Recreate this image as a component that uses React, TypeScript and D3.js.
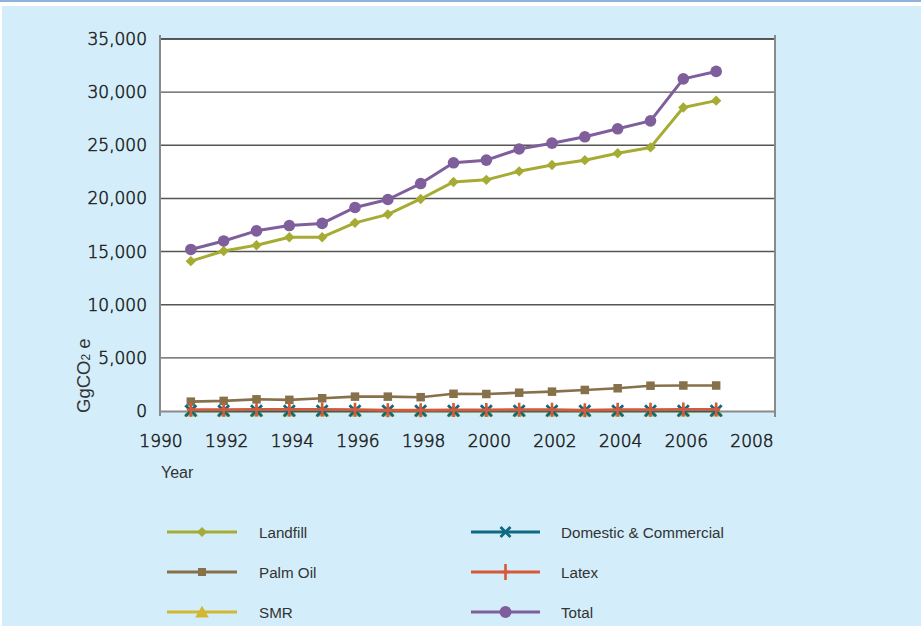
import React from "react";
import * as d3 from "d3";

const years = [1991, 1992, 1993, 1994, 1995, 1996, 1997, 1998, 1999, 2000, 2001, 2002, 2003, 2004, 2005, 2006, 2007];
const landfill = [14100, 15050, 15600, 16350, 16350, 17700, 18500, 19950, 21550, 21750, 22550, 23150, 23600, 24250, 24800, 28550, 29200];
const palmOil = [880, 950, 1100, 1050, 1200, 1350, 1350, 1300, 1620, 1600, 1720, 1820, 1980, 2140, 2380, 2400, 2400];
const smr = [10, 10, 10, 10, 10, 10, 10, 10, 10, 10, 10, 10, 10, 10, 10, 10, 10];
const domestic = [20, 20, 20, 20, 20, 20, 20, 20, 20, 20, 20, 20, 20, 20, 20, 20, 20];
const latex = [110, 110, 140, 140, 130, 110, 60, 80, 90, 100, 110, 120, 80, 110, 120, 130, 130];
const total = [15200, 16000, 16950, 17450, 17650, 19150, 19900, 21400, 23350, 23600, 24650, 25200, 25800, 26550, 27300, 31250, 31950];

const yTicks = [0, 5000, 10000, 15000, 20000, 25000, 30000, 35000];
const xTicks = [1990, 1992, 1994, 1996, 1998, 2000, 2002, 2004, 2006, 2008];

type Marker = "diamond" | "square" | "triangle" | "x" | "plus" | "circle";
interface Series { name: string; values: number[]; color: string; marker: Marker; width: number; }

const series: Series[] = [
  { name: "Landfill", values: landfill, color: "#a6ab33", marker: "diamond", width: 3 },
  { name: "Palm Oil", values: palmOil, color: "#86714a", marker: "square", width: 2.6 },
  { name: "SMR", values: smr, color: "#d2b735", marker: "triangle", width: 3 },
  { name: "Domestic & Commercial", values: domestic, color: "#0e6a80", marker: "x", width: 3 },
  { name: "Latex", values: latex, color: "#d6593a", marker: "plus", width: 3 },
  { name: "Total", values: total, color: "#7e5e9b", marker: "circle", width: 3 },
];

const legendOrder = ["Landfill", "Domestic & Commercial", "Palm Oil", "Latex", "SMR", "Total"];

const W = 921, H = 626;
const plotL = 160, plotR = 775, plotT = 39, plotB = 411;

const x = d3.scaleLinear().domain([1990, 2008]).range([158, 749]);
const y = d3.scaleLinear().domain([0, 35000]).range([plotB, plotT]);

function MarkerShape({ m, cx, cy, color, legend }: { m: Marker; cx: number; cy: number; color: string; legend?: boolean }) {
  switch (m) {
    case "diamond": {
      const r = legend ? 5 : 5.2;
      return <path d={`M${cx},${cy - r}L${cx + r},${cy}L${cx},${cy + r}L${cx - r},${cy}Z`} fill={color} />;
    }
    case "square": {
      const s = legend ? 8 : 8.5;
      return <rect x={cx - s / 2} y={cy - s / 2} width={s} height={s} fill={color} />;
    }
    case "triangle": {
      const p = d3.symbol().type(d3.symbolTriangle).size(legend ? 80 : 85)();
      return <path d={p as string} transform={`translate(${cx},${cy + 1.5})`} fill={legend ? color : "#c9b02e"} />;
    }
    case "x": {
      const r = legend ? 5 : 5.5;
      return (
        <path d={`M${cx - r},${cy - r}L${cx + r},${cy + r}M${cx - r},${cy + r}L${cx + r},${cy - r}`} stroke={color} strokeWidth={2.8} fill="none" />
      );
    }
    case "plus": {
      const r = legend ? 8 : 7;
      return <path d={`M${cx},${cy - r}L${cx},${cy + r}M${cx - 4},${cy}L${cx + 4},${cy}`} stroke={color} strokeWidth={2.6} fill="none" />;
    }
    case "circle":
      return <circle cx={cx} cy={cy} r={legend ? 6 : 5.8} fill={color} />;
  }
  return null;
}

export default function App() {
  const line = d3
    .line<number>()
    .x((_, i) => x(years[i]))
    .y((v) => y(v));

  const tickFont = "'DejaVu Sans', sans-serif";
  const textFont = "'Liberation Sans', Arial, sans-serif";
  const tickStyle = { fontFamily: tickFont, fontWeight: 200, fontSize: 17, fill: "#222", stroke: "#222", strokeWidth: 0.55 } as const;

  return (
    <svg width={W} height={H} style={{ position: "absolute", left: 0, top: 0, display: "block" }}>
      <rect x={0} y={0} width={W} height={H} fill="#ffffff" />
      <rect x={0} y={0} width={W} height={2} fill="#8fb3d6" />
      <rect x={2} y={6} width={W - 2} height={H - 6} fill="#d3eefa" />

      <rect x={plotL} y={plotT} width={plotR - plotL} height={plotB - plotT} fill="#ffffff" />

      {yTicks.filter((t) => t > 0).map((t) => (
        <line key={t} x1={plotL} x2={plotR} y1={y(t)} y2={y(t)} stroke={t === 35000 ? "#222" : "#555"} strokeWidth={1.4} />
      ))}

      <line x1={plotL} x2={plotL} y1={35} y2={416} stroke="#8a8a8a" strokeWidth={2} />
      <line x1={plotL} x2={plotR} y1={plotB + 0.5} y2={plotB + 0.5} stroke="#8a8a8a" strokeWidth={2} />
      <line x1={plotR} x2={plotR} y1={35} y2={417} stroke="#8a8a8a" strokeWidth={2} />

      {yTicks.map((t) => (
        <text key={t} x={147} y={y(t) + 6} textAnchor="end" style={tickStyle}>
          {d3.format(",")(t)}
        </text>
      ))}
      {xTicks.map((t) => (
        <text key={t} x={x(t) + 3} y={447} textAnchor="middle" style={tickStyle}>
          {t}
        </text>
      ))}

      <text x={161} y={478} fontFamily={textFont} fontSize={16} fill="#333">Year</text>
      <text transform="translate(90,413) rotate(-90)" fontFamily={textFont} fontSize={18.5} fill="#333">
        GgCO<tspan fontSize={12}>2</tspan> e
      </text>

      {series.map((s) => (
        <g key={s.name}>
          <path d={line(s.values) as string} fill="none" stroke={s.color} strokeWidth={s.width} strokeLinejoin="round" />
          {s.values.map((v, i) => (
            <MarkerShape key={i} m={s.marker} cx={x(years[i])} cy={y(v)} color={s.color} />
          ))}
        </g>
      ))}

      {legendOrder.map((name, i) => {
        const s = series.find((d) => d.name === name)!;
        const col = i % 2;
        const row = Math.floor(i / 2);
        const x0 = col === 0 ? 167 : 471;
        const x1 = col === 0 ? 237 : 540;
        const tx = col === 0 ? 259 : 561;
        const cy = 532 + row * 40;
        return (
          <g key={name}>
            <line x1={x0} x2={x1} y1={cy} y2={cy} stroke={s.color} strokeWidth={3} />
            <MarkerShape m={s.marker} cx={(x0 + x1) / 2} cy={cy} color={s.color} legend />
            <text x={tx} y={cy + 5.5} fontFamily={textFont} fontSize={15.2} fill="#333">
              {name}
            </text>
          </g>
        );
      })}
    </svg>
  );
}
